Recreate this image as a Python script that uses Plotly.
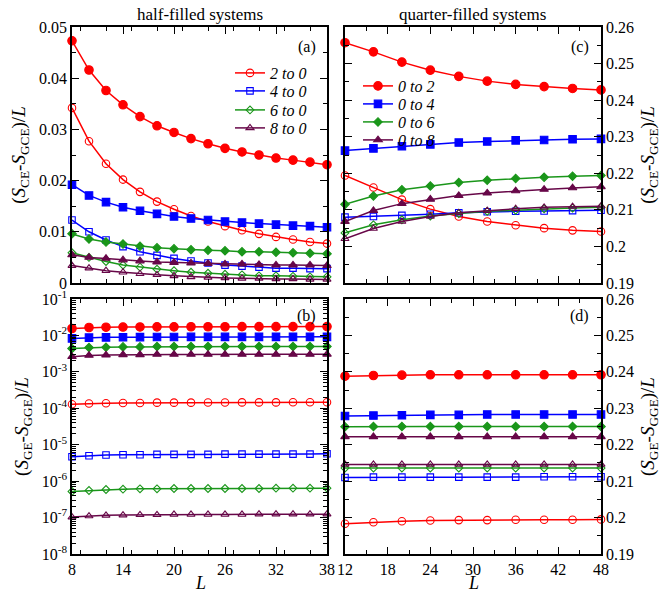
import plotly.graph_objects as go

# ---------------- data ----------------
L_half = [8, 10, 12, 14, 16, 18, 20, 22, 24, 26, 28, 30, 32, 34, 36, 38]
L_quarter = [12, 16, 20, 24, 28, 32, 36, 40, 44, 48]

# panel (a): (S_CE - S_GCE)/L, half-filled
a_red_filled = [0.0473, 0.0416, 0.0376, 0.0348, 0.0325, 0.0307, 0.0294, 0.0282, 0.0272, 0.0263, 0.0256, 0.0250, 0.0244, 0.0240, 0.0236, 0.0231]
a_red_open = [0.0342, 0.0277, 0.0233, 0.0202, 0.0178, 0.0159, 0.0144, 0.0131, 0.0120, 0.0111, 0.0103, 0.0096, 0.0090, 0.0085, 0.0080, 0.0077]
a_blue_filled = [0.0192, 0.0171, 0.0158, 0.0148, 0.0141, 0.0135, 0.0130, 0.0126, 0.0123, 0.0120, 0.0118, 0.0116, 0.0114, 0.0112, 0.0111, 0.0109]
a_blue_open = [0.0123, 0.0100, 0.0084, 0.0071, 0.0061, 0.0054, 0.0048, 0.0043, 0.0039, 0.0035, 0.0033, 0.0031, 0.0029, 0.0029, 0.0028, 0.0028]
a_green_filled = [0.0096, 0.0086, 0.0080, 0.0076, 0.0072, 0.0069, 0.0067, 0.0065, 0.0064, 0.0063, 0.0061, 0.0061, 0.0060, 0.0059, 0.0058, 0.0057]
a_green_open = [0.0059, 0.0050, 0.0042, 0.0035, 0.0031, 0.0027, 0.0024, 0.0021, 0.0019, 0.0017, 0.0016, 0.0014, 0.0014, 0.0013, 0.0012, 0.0012]
a_purple_filled = [0.0055, 0.0050, 0.0048, 0.0045, 0.0043, 0.0041, 0.0040, 0.0039, 0.0038, 0.0037, 0.0037, 0.0036, 0.0035, 0.0035, 0.0035, 0.0034]
a_purple_open = [0.0034, 0.0029, 0.0024, 0.0021, 0.0018, 0.0016, 0.0014, 0.0012, 0.0011, 0.0010, 0.0009, 0.0009, 0.0008, 0.0008, 0.0007, 0.0007]

# panel (b): (S_GE - S_GGE)/L, half-filled (log scale)
b_red_filled = [1.55e-2, 1.65e-2, 1.68e-2, 1.70e-2, 1.71e-2, 1.72e-2, 1.72e-2, 1.73e-2, 1.73e-2, 1.73e-2, 1.74e-2, 1.74e-2, 1.74e-2, 1.74e-2, 1.75e-2, 1.75e-2]
b_red_open = [1.29e-4, 1.35e-4, 1.37e-4, 1.40e-4, 1.40e-4, 1.43e-4, 1.43e-4, 1.43e-4, 1.44e-4, 1.44e-4, 1.45e-4, 1.45e-4, 1.45e-4, 1.46e-4, 1.46e-4, 1.46e-4]
b_blue_filled = [8.3e-3, 8.7e-3, 8.85e-3, 8.95e-3, 9.0e-3, 9.05e-3, 9.05e-3, 9.1e-3, 9.1e-3, 9.1e-3, 9.1e-3, 9.15e-3, 9.15e-3, 9.15e-3, 9.15e-3, 9.15e-3]
b_blue_open = [4.69e-6, 4.99e-6, 5.20e-6, 5.31e-6, 5.31e-6, 5.42e-6, 5.42e-6, 5.42e-6, 5.42e-6, 5.53e-6, 5.53e-6, 5.53e-6, 5.53e-6, 5.53e-6, 5.53e-6, 5.65e-6]
b_green_filled = [4.38e-3, 4.66e-3, 4.75e-3, 4.85e-3, 4.85e-3, 4.95e-3, 4.95e-3, 4.95e-3, 4.95e-3, 4.95e-3, 4.95e-3, 4.95e-3, 4.95e-3, 4.95e-3, 5.0e-3, 5.0e-3]
b_green_open = [5.21e-7, 5.55e-7, 5.90e-7, 6.03e-7, 6.15e-7, 6.15e-7, 6.28e-7, 6.28e-7, 6.28e-7, 6.28e-7, 6.28e-7, 6.28e-7, 6.41e-7, 6.41e-7, 6.41e-7, 6.41e-7]
b_purple_filled = [2.61e-3, 2.83e-3, 2.89e-3, 2.95e-3, 2.95e-3, 3.01e-3, 3.01e-3, 3.01e-3, 3.01e-3, 3.01e-3, 3.01e-3, 3.01e-3, 3.01e-3, 3.01e-3, 3.01e-3, 3.03e-3]
b_purple_open = [1.03e-7, 1.10e-7, 1.15e-7, 1.17e-7, 1.19e-7, 1.19e-7, 1.22e-7, 1.22e-7, 1.22e-7, 1.22e-7, 1.22e-7, 1.24e-7, 1.24e-7, 1.24e-7, 1.24e-7, 1.24e-7]

# panel (c): (S_CE - S_GCE)/L, quarter-filled
c_red_filled = [0.2557, 0.2532, 0.2504, 0.2482, 0.2465, 0.2452, 0.2443, 0.2437, 0.2432, 0.2428]
c_blue_filled = [0.2262, 0.2268, 0.2274, 0.2279, 0.2284, 0.2287, 0.2290, 0.2291, 0.2293, 0.2294]
c_green_filled = [0.2115, 0.2138, 0.2155, 0.2165, 0.2175, 0.2181, 0.2186, 0.2189, 0.2192, 0.2194]
c_purple_filled = [0.2068, 0.2098, 0.2117, 0.2129, 0.2139, 0.2146, 0.2152, 0.2156, 0.2160, 0.2163]
c_red_open = [0.2194, 0.2161, 0.2128, 0.2102, 0.2082, 0.2068, 0.2058, 0.2050, 0.2044, 0.2041]
c_blue_open = [0.2080, 0.2082, 0.2085, 0.2088, 0.2092, 0.2095, 0.2096, 0.2097, 0.2098, 0.2099]
c_green_open = [0.2037, 0.2059, 0.2073, 0.2083, 0.2090, 0.2096, 0.2099, 0.2103, 0.2105, 0.2107]
c_purple_open = [0.2021, 0.2049, 0.2068, 0.2082, 0.2092, 0.2098, 0.2103, 0.2107, 0.2109, 0.2110]

# panel (d): (S_GE - S_GGE)/L, quarter-filled
d_red_filled = [0.2388, 0.2390, 0.2391, 0.2392, 0.2392, 0.2392, 0.2392, 0.2392, 0.2392, 0.2392]
d_blue_filled = [0.2279, 0.2280, 0.2281, 0.2282, 0.2282, 0.2283, 0.2283, 0.2283, 0.2283, 0.2283]
d_green_filled = [0.2249, 0.2250, 0.2250, 0.2250, 0.2250, 0.2250, 0.2250, 0.2250, 0.2250, 0.2250]
d_purple_filled = [0.2222, 0.2222, 0.2222, 0.2222, 0.2222, 0.2222, 0.2222, 0.2222, 0.2222, 0.2222]
d_red_open = [0.1983, 0.1987, 0.1990, 0.1992, 0.1993, 0.1993, 0.1994, 0.1994, 0.1994, 0.1995]
d_blue_open = [0.2110, 0.2111, 0.2111, 0.2111, 0.2111, 0.2111, 0.2111, 0.2112, 0.2112, 0.2112]
d_green_open = [0.2136, 0.2136, 0.2136, 0.2136, 0.2136, 0.2136, 0.2136, 0.2136, 0.2136, 0.2136]
d_purple_open = [0.2146, 0.2146, 0.2146, 0.2146, 0.2146, 0.2146, 0.2146, 0.2146, 0.2146, 0.2146]

half_names = ["2 to 0", "4 to 0", "6 to 0", "8 to 0"]
quarter_names = ["0 to 2", "0 to 4", "0 to 6", "0 to 8"]
log_tick_vals = [1e-8, 1e-7, 1e-6, 1e-5, 1e-4, 1e-3, 1e-2, 1e-1]
log_tick_text = ["10<sup>-8</sup>", "10<sup>-7</sup>", "10<sup>-6</sup>", "10<sup>-5</sup>",
                 "10<sup>-4</sup>", "10<sup>-3</sup>", "10<sup>-2</sup>", "10<sup>-1</sup>"]

# ---------------- styling ----------------
FONT = "Liberation Serif, Times New Roman, serif"
colors = ["#ff0000", "#0000ff", "#1a961a", "#670748"]
symbols = ["circle", "square", "diamond", "triangle-up"]
msize_filled = [8.5, 7.5, 6.5, 7.5]
msize_open = [7.5, 6.5, 6, 7]

W, H = 663, 595
# single-entry legends, one per legend row (pixel centres)
half_leg_y = [73, 91, 110, 128]
quarter_leg_y = [86, 104, 122, 140]

fig = go.Figure()


def add(x, y, i, filled, xa, ya, name=None, legend=None):
    sym = symbols[i] if filled else symbols[i] + "-open"
    fig.add_trace(go.Scatter(
        x=x, y=y, mode="lines+markers", xaxis=xa, yaxis=ya,
        name=name if name else "", showlegend=name is not None,
        legend=legend if legend else "legend",
        cliponaxis=False,
        line=dict(color=colors[i], width=1.5),
        marker=dict(symbol=sym, size=msize_filled[i] if filled else msize_open[i], color=colors[i],
                    line=dict(color=colors[i], width=1.1)),
    ))


def legname(k):
    return "legend" if k == 1 else "legend%d" % k


# panel (a)
for i, (f, o) in enumerate([(a_red_filled, a_red_open), (a_blue_filled, a_blue_open),
                            (a_green_filled, a_green_open), (a_purple_filled, a_purple_open)]):
    add(L_half, o, i, False, "x", "y", name="<i>%s</i>" % half_names[i], legend=legname(i + 1))
    add(L_half, f, i, True, "x", "y")
# panel (b)
for i, (f, o) in enumerate([(b_red_filled, b_red_open), (b_blue_filled, b_blue_open),
                            (b_green_filled, b_green_open), (b_purple_filled, b_purple_open)]):
    add(L_half, o, i, False, "x2", "y2")
    add(L_half, f, i, True, "x2", "y2")
# panel (c)
for i, (f, o) in enumerate([(c_red_filled, c_red_open), (c_blue_filled, c_blue_open),
                            (c_green_filled, c_green_open), (c_purple_filled, c_purple_open)]):
    add(L_quarter, f, i, True, "x3", "y3", name="<i>%s</i>" % quarter_names[i], legend=legname(i + 5))
    add(L_quarter, o, i, False, "x3", "y3")
# panel (d)
for i, (f, o) in enumerate([(d_red_filled, d_red_open), (d_blue_filled, d_blue_open),
                            (d_green_filled, d_green_open), (d_purple_filled, d_purple_open)]):
    add(L_quarter, f, i, True, "x4", "y4")
    add(L_quarter, o, i, False, "x4", "y4")

xl = [72 / W, 327 / W]
xr = [345 / W, 601 / W]
yt = [1 - 283 / H, 1 - 27 / H]
yb = [1 - 554 / H, 1 - 299 / H]

tickfont = dict(family=FONT, size=16, color="black")
titlefont = dict(family=FONT, size=19, color="black")


def axis(**kw):
    d = dict(showline=True, linecolor="black", linewidth=1.5, mirror="ticks",
             ticks="inside", ticklen=7, tickwidth=1.2, tickcolor="black",
             showgrid=False, zeroline=False, tickfont=tickfont, automargin=False)
    d.update(kw)
    return d


minor_x = dict(ticks="inside", ticklen=4, tickwidth=1, tickcolor="black", dtick=3, showgrid=False)
minor_lin = dict(ticks="inside", ticklen=4, tickwidth=1, tickcolor="black", dtick=0.005, showgrid=False)

ylab_ce = "(<i>S</i><sub>CE</sub>-<i>S</i><sub>GCE</sub>)/<i>L</i>"
ylab_ge = "(<i>S</i><sub>GE</sub>-<i>S</i><sub>GGE</sub>)/<i>L</i>"


def ann(text, xpx, ypx, size, xanchor="center", yanchor="middle"):
    return dict(text=text, x=xpx / W, y=1 - ypx / H, xref="paper", yref="paper",
                xanchor=xanchor, yanchor=yanchor, showarrow=False,
                font=dict(family=FONT, size=size, color="black"))


legend_font = dict(family=FONT, size=16, color="black")


def leg(xpx, ypx):
    return dict(x=xpx / W, y=1 - ypx / H, xanchor="left", yanchor="middle",
                bgcolor="rgba(0,0,0,0)", font=legend_font, itemwidth=30,
                tracegroupgap=0)


layout_legends = {}
for k in range(4):
    layout_legends[legname(k + 1)] = leg(230, half_leg_y[k])
    layout_legends[legname(k + 5)] = leg(358, quarter_leg_y[k])

fig.update_layout(
    width=W, height=H, margin=dict(l=0, r=0, t=0, b=0),
    paper_bgcolor="white", plot_bgcolor="white",
    font=dict(family=FONT, color="black"),
    xaxis=axis(domain=xl, anchor="y", range=[8, 38], tick0=8, dtick=6, showticklabels=False, minor=minor_x),
    yaxis=axis(domain=yt, anchor="x", range=[0, 0.05], dtick=0.01, minor=minor_lin,
               title=dict(text=ylab_ce, font=titlefont, standoff=8)),
    xaxis2=axis(domain=xl, anchor="y2", range=[8, 38], tick0=8, dtick=6, minor=minor_x),
    yaxis2=axis(domain=yb, anchor="x2", type="log", range=[-8, -1],
                tickmode="array", tickvals=log_tick_vals, ticktext=log_tick_text,
                minor=dict(ticks="inside", ticklen=4, tickwidth=1, tickcolor="black", dtick="D1", showgrid=False),
                title=dict(text=ylab_ge, font=titlefont, standoff=8)),
    xaxis3=axis(domain=xr, anchor="y3", range=[12, 48], tick0=12, dtick=6, showticklabels=False, minor=minor_x),
    yaxis3=axis(domain=yt, anchor="x3", side="right", range=[0.19, 0.26], dtick=0.01, minor=minor_lin,
                title=dict(text=ylab_ce, font=titlefont, standoff=8)),
    xaxis4=axis(domain=xr, anchor="y4", range=[12, 48], tick0=12, dtick=6, minor=minor_x),
    yaxis4=axis(domain=yb, anchor="x4", side="right", range=[0.19, 0.26], dtick=0.01, minor=minor_lin,
                title=dict(text=ylab_ge, font=titlefont, standoff=8)),
    annotations=[
        ann("half-filled systems", 200, 14, 17),
        ann("quarter-filled systems", 472, 14, 17),
        ann("(a)", 318, 47, 16, "right"),
        ann("(b)", 318, 316, 16, "right"),
        ann("(c)", 591, 47, 16, "right"),
        ann("(d)", 591, 316, 16, "right"),
        ann("<i>L</i>", 200, 595, 18, yanchor="bottom"),
        ann("<i>L</i>", 473, 595, 18, yanchor="bottom"),
    ],
    **layout_legends,
)

fig.write_html("out.html")
